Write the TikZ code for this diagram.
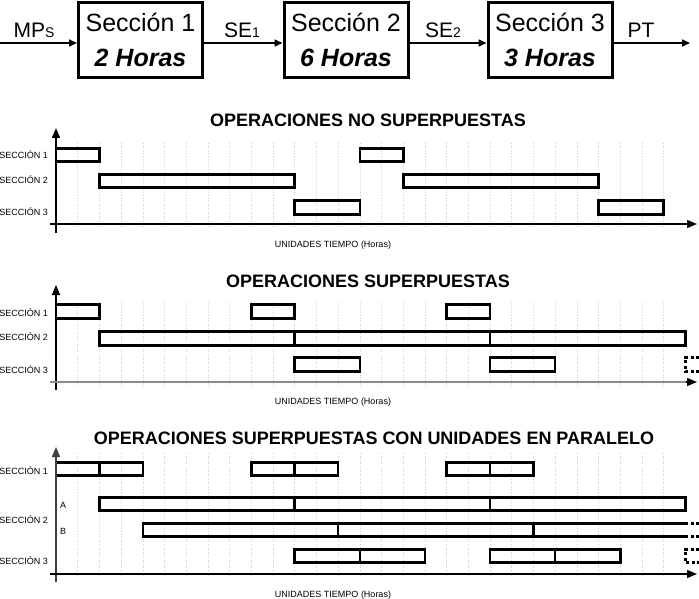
\documentclass[tikz,border=0pt]{standalone}
\usepackage{fontspec}
\setmainfont{Liberation Sans}
\usetikzlibrary{arrows.meta}
\newcommand\gb[4]{\draw[gbar] ({56+21.7*#1},#3) rectangle ({56+21.7*#2},#4);}
\begin{document}
\begin{tikzpicture}[x=1pt,y=-1pt,
  box/.style={draw,line width=3pt,minimum width=124pt,minimum height=75pt,align=center,font=\fontsize{25}{35}\selectfont,inner sep=0pt},
  flow/.style={line width=1.6pt,-{Triangle[length=8pt,width=7pt]}},
  lab/.style={font=\fontsize{21}{21}\selectfont,anchor=base,inner sep=0pt},
  gbar/.style={draw,line width=2.6pt},
  gdash/.style={draw,line width=2.6pt,dash pattern=on 3pt off 2.5pt},
  gridl/.style={gray!40,dotted,line width=0.6pt},
  axis/.style={line width=1.4pt,-{Triangle[length=10pt,width=8pt]}},
  ttl/.style={font=\fontsize{18}{18}\selectfont\bfseries,anchor=base,inner sep=0pt},
  sec/.style={font=\fontsize{9}{9}\selectfont,anchor=base east,inner sep=0pt},
  seclet/.style={font=\fontsize{9}{9}\selectfont,anchor=base west,inner sep=0pt},
  unit/.style={font=\fontsize{9}{9}\selectfont,anchor=base,inner sep=0pt}]
\useasboundingbox (0,0) rectangle (699,599);
% ---- flow ----
\node[box] (s1) at (140.5,40) {Sección 1\\\textbf{\textit{2 Horas}}};
\node[box] (s2) at (346,40) {Sección 2\\\textbf{\textit{6 Horas}}};
\node[box] (s3) at (550,40) {Sección 3\\\textbf{\textit{3 Horas}}};
\coordinate (in) at (0,43);
\coordinate (out) at (690,43);
\draw[flow] (in) -- (in -| s1.west);
\draw[flow] ([yshift=-3pt]s1.east) -- ([yshift=-3pt]s2.west);
\draw[flow] ([yshift=-3pt]s2.east) -- ([yshift=-3pt]s3.west);
\draw[flow] ([yshift=-3pt]s3.east) -- (out);
\node[lab] (lmps) at (34,37.7) {MP{\fontsize{14}{14}\selectfont S}};
\node[lab] (lse1) at (242,37.7) {SE{\fontsize{14}{14}\selectfont 1}};
\node[lab] (lse2) at (443,37.7) {SE{\fontsize{14}{14}\selectfont 2}};
\node[lab] (lpt) at (641,37.7) {PT};
% ---- chart 1 ----
\foreach \k in {1,...,28} \draw[gridl] ({56+21.7*\k},143) -- ({56+21.7*\k},228);
\node[ttl] (t1) at (368,127) {OPERACIONES NO SUPERPUESTAS};
\node[sec] (a1) at (48,159) {SECCIÓN 1};
\node[sec] (a2) at (48,183) {SECCIÓN 2};
\node[sec] (a3) at (48,215) {SECCIÓN 3};
\node[unit] (u1) at (333,247) {UNIDADES TIEMPO (Horas)};
\gb{0}{2}{148.5}{161.5}
\gb{2}{11}{174.5}{187.5}
\gb{11}{14}{200.5}{214.5}
\gb{14}{16}{148.5}{161.5}
\gb{16}{25}{174.5}{187.5}
\gb{25}{28}{200.5}{214.5}
\draw[axis] (56,233) -- (56,128);
\draw[axis] (50,224) -- (697,224);
% ---- chart 2 ----
\foreach \k in {1,...,28} \draw[gridl] ({56+21.7*\k},302) -- ({56+21.7*\k},386);
\node[ttl] (t2) at (368,287) {OPERACIONES SUPERPUESTAS};
\node[sec] (b1) at (48,316) {SECCIÓN 1};
\node[sec] (b2) at (48,340.5) {SECCIÓN 2};
\node[sec] (b3) at (48,373) {SECCIÓN 3};
\node[unit] (u2) at (333,404) {UNIDADES TIEMPO (Horas)};
\gb{0}{2}{304.5}{318.5}
\gb{9}{11}{304.5}{318.5}
\gb{18}{20}{304.5}{318.5}
\gb{2}{11}{331.5}{345.5}
\gb{11}{20}{331.5}{345.5}
\gb{20}{29}{331.5}{345.5}
\gb{11}{14}{357.5}{371.5}
\gb{20}{23}{357.5}{371.5}
\draw[gdash] (699,357.5) -- ({56+21.7*29},357.5) -- ({56+21.7*29},371.5) -- (699,371.5);
\draw[axis] (56,390) -- (56,285);
\draw[line width=1.4pt,black!45] (50,382) -- (689,382);
\draw[axis] (686,382) -- (697,382);
% ---- chart 3 ----
\foreach \k in {1,...,28} \draw[gridl] ({56+21.7*\k},453) -- ({56+21.7*\k},577);
\node[ttl] (t3) at (374,444) {OPERACIONES SUPERPUESTAS CON UNIDADES EN PARALELO};
\node[sec] (c1) at (48,474) {SECCIÓN 1};
\node[seclet] (ca) at (60,508) {A};
\node[sec] (c2) at (48,523) {SECCIÓN 2};
\node[seclet] (cb) at (60,534) {B};
\node[sec] (c3) at (48,564) {SECCIÓN 3};
\node[unit] (u3) at (333,597) {UNIDADES TIEMPO (Horas)};
\gb{0}{2}{462.5}{475.5}
\gb{2}{4}{462.5}{475.5}
\gb{9}{11}{462.5}{475.5}
\gb{11}{13}{462.5}{475.5}
\gb{18}{20}{462.5}{475.5}
\gb{20}{22}{462.5}{475.5}
\gb{2}{11}{497.5}{510.5}
\gb{11}{20}{497.5}{510.5}
\gb{20}{29}{497.5}{510.5}
\gb{4}{13}{523.5}{536.5}
\gb{13}{22}{523.5}{536.5}
\draw[gbar] ({56+21.7*22},523.5) -- ({56+21.7*29},523.5);
\draw[gbar] ({56+21.7*22},536.5) -- ({56+21.7*29},536.5);
\draw[gdash] ({56+21.7*29},523.5) -- (699,523.5);
\draw[gdash] ({56+21.7*29},536.5) -- (699,536.5);
\gb{11}{14}{549.5}{562.5}
\gb{14}{17}{549.5}{562.5}
\gb{20}{23}{549.5}{562.5}
\gb{23}{26}{549.5}{562.5}
\draw[gdash] (699,549.5) -- ({56+21.7*29},549.5) -- ({56+21.7*29},562.5) -- (699,562.5);
\draw[axis,draw=black!75] (56,582) -- (56,447);
\draw[axis] (50,574) -- (697,574);
\end{tikzpicture}
\end{document}
